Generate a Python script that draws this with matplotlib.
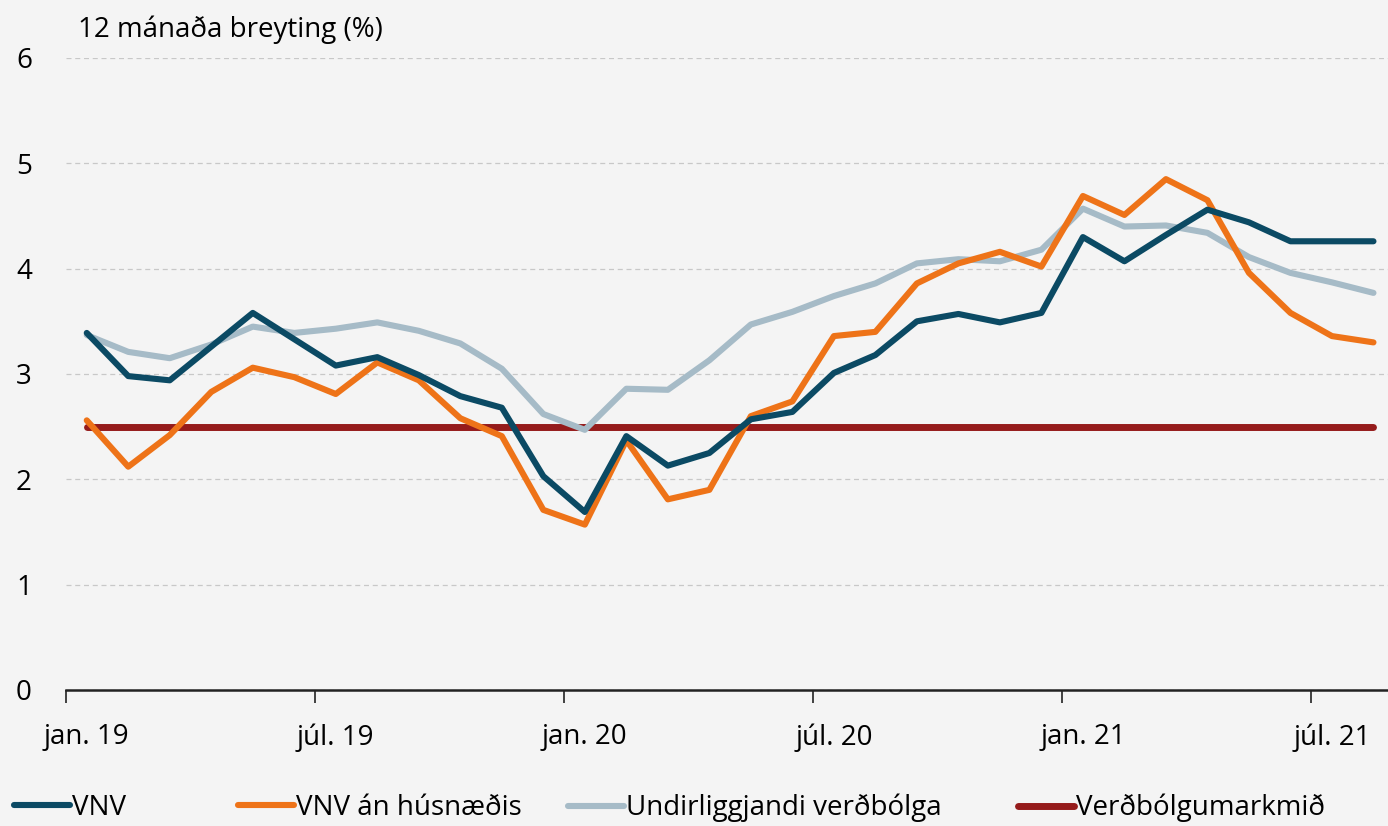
import matplotlib.pyplot as plt
import numpy as np

# 12 mánaða breyting, jan. 2019 - ágú. 2021
months = ["jan. 19", "feb. 19", "mar. 19", "apr. 19", "maí 19", "jún. 19",
          "júl. 19", "ágú. 19", "sep. 19", "okt. 19", "nóv. 19", "des. 19",
          "jan. 20", "feb. 20", "mar. 20", "apr. 20", "maí 20", "jún. 20",
          "júl. 20", "ágú. 20", "sep. 20", "okt. 20", "nóv. 20", "des. 20",
          "jan. 21", "feb. 21", "mar. 21", "apr. 21", "maí 21", "jún. 21",
          "júl. 21", "ágú. 21"]
vnv = [3.39, 2.98, 2.94, 3.26, 3.58, 3.33, 3.08, 3.16, 2.99, 2.79, 2.68, 2.03,
       1.69, 2.41, 2.13, 2.25, 2.57, 2.64, 3.01, 3.18, 3.50, 3.57, 3.49, 3.58,
       4.30, 4.07, 4.32, 4.56, 4.44, 4.26, 4.26, 4.26]
vnv_an_hus = [2.56, 2.12, 2.42, 2.83, 3.06, 2.97, 2.81, 3.11, 2.94, 2.58, 2.41, 1.71,
              1.57, 2.37, 1.81, 1.90, 2.60, 2.74, 3.36, 3.40, 3.86, 4.05, 4.16, 4.02,
              4.69, 4.51, 4.85, 4.65, 3.96, 3.58, 3.36, 3.30]
undirliggjandi = [3.37, 3.21, 3.15, 3.28, 3.45, 3.39, 3.43, 3.49, 3.41, 3.29, 3.05, 2.62,
                  2.47, 2.86, 2.85, 3.13, 3.47, 3.59, 3.74, 3.86, 4.05, 4.09, 4.07, 4.18,
                  4.57, 4.40, 4.41, 4.34, 4.11, 3.96, 3.87, 3.77]
markmid = [2.5] * len(months)

bg = "#f4f4f4"
plt.rcParams["font.family"] = ["Open Sans", "DejaVu Sans"]
fs = 20

fig = plt.figure(figsize=(13.88, 8.26), dpi=100)
fig.patch.set_facecolor(bg)
ax = fig.add_axes([66 / 1388, 1 - 690 / 826, 1 - 66 / 1388, (690 - 58) / 826])
ax.set_facecolor(bg)

x = np.arange(len(months))
l4, = ax.plot(x, markmid, color="#951b1b", lw=5.0, solid_capstyle="round", zorder=2)
l3, = ax.plot(x, undirliggjandi, color="#a6bbc7", lw=4.4, solid_capstyle="round", zorder=3)
l2, = ax.plot(x, vnv_an_hus, color="#ee7318", lw=4.4, solid_capstyle="round", zorder=4)
l1, = ax.plot(x, vnv, color="#0b4a64", lw=4.4, solid_capstyle="round", zorder=5)

ax.set_ylim(0, 6)
ax.set_yticks(range(0, 7))
ax.yaxis.grid(True, color="#c8c8c8", ls=(0, (4, 3)), lw=0.9)
ax.set_axisbelow(True)
ax.set_xlim(-0.5, 31.35)

# tick marks between categories, labels centred under months
ax.set_xticks(np.arange(-0.5, 31, 6))
ax.set_xticklabels([])
ax.set_xticks(np.arange(0, 32, 6), minor=True)
ax.set_xticklabels(months[::6], minor=True)
ax.tick_params(axis="x", which="major", length=9, width=1.2, color="#222222")
ax.tick_params(axis="x", which="minor", length=0, pad=24, labelsize=fs)
ax.tick_params(axis="y", length=0, pad=36, labelsize=fs)
for lab in ax.get_yticklabels():
    lab.set_horizontalalignment("left")

for s in ["top", "right", "left"]:
    ax.spines[s].set_visible(False)
ax.spines["bottom"].set_linewidth(1.8)
ax.spines["bottom"].set_color("#222222")

fig.text(78 / 1388, 1 - 30 / 826, "12 mánaða breyting (%)", fontsize=fs, va="center", ha="left")

# legend entries placed one by one, like the original's spacing
entries = [(l1, "VNV", 14), (l2, "VNV án húsnæðis", 238), (l3, "Undirliggjandi verðbólga", 568),
           (l4, "Verðbólgumarkmið", 1018)]
for handle, text, px in entries:
    fig.legend([handle], [text], loc="center left", bbox_to_anchor=(px / 1388, 1 - 808 / 826),
               frameon=False, fontsize=fs, handlelength=2.0, handletextpad=0.1,
               borderaxespad=0, borderpad=0)

fig.savefig("out.png", dpi=100, facecolor=bg)
